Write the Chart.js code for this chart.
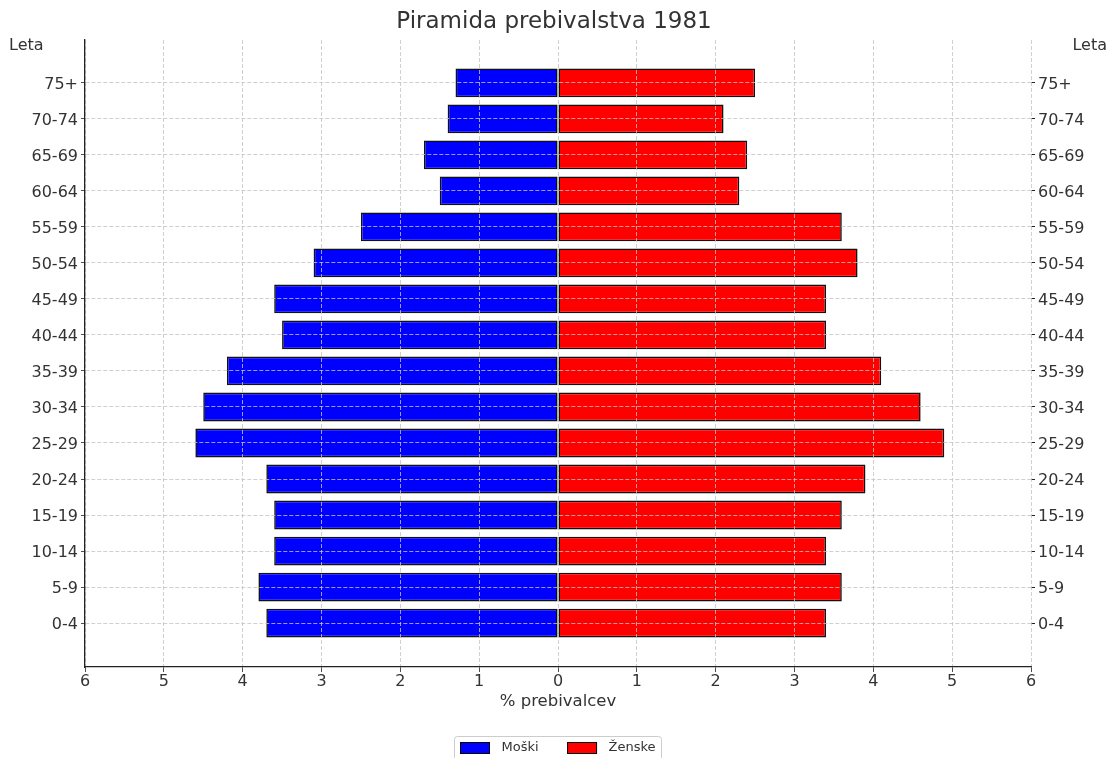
<!DOCTYPE html>
<html>
<head>
<meta charset="utf-8">
<script src="https://cdn.jsdelivr.net/npm/chart.js@4/dist/chart.umd.min.js"></script>
<style>
  html, body { margin: 0; padding: 0; background: #ffffff; }
  #wrap { width: 1108px; height: 758px; }
</style>
</head>
<body>
<div id="wrap"><canvas id="pyramid" width="1108" height="758"></canvas></div>
<script>
// Age groups, bottom to top
const ageGroups = ['0-4', '5-9', '10-14', '15-19', '20-24', '25-29', '30-34', '35-39',
                   '40-44', '45-49', '50-54', '55-59', '60-64', '65-69', '70-74', '75+'];
// Share of population (%) per age group
const male   = [3.7, 3.8, 3.6, 3.6, 3.7, 4.6, 4.5, 4.2, 3.5, 3.6, 3.1, 2.5, 1.5, 1.7, 1.4, 1.3];
const female = [3.4, 3.6, 3.4, 3.6, 3.9, 4.9, 4.6, 4.1, 3.4, 3.4, 3.8, 3.6, 2.3, 2.4, 2.1, 2.5];
// Percentage axis ticks
const xTickValues = [-6, -5, -4, -3, -2, -1, 0, 1, 2, 3, 4, 5, 6];

const seriesNames = ['Moški', 'Ženske'];
const seriesColors = ['#0000ff', '#ff0000'];

const FONT = 'DejaVu Sans';
const TEXT = '#333333';
const GRID = '#c4c4c4';

const yMin = -1.22, yMax = 16.19;

const ageTicks = axis => { axis.ticks = ageGroups.map((_, i) => ({ value: i })); };
const ageLabel = v => ageGroups[v] ?? '';

// "Leta" captions above both age axes, and the framed legend below the chart
const extras = {
  id: 'extras',
  afterDraw(chart) {
    const ctx = chart.ctx;
    const yl = chart.scales.y, yr = chart.scales.y2;
    ctx.save();
    ctx.fillStyle = TEXT;
    ctx.font = `16px "${FONT}"`;
    ctx.textBaseline = 'middle';
    ctx.textAlign = 'left';
    ctx.fillText('Leta', yl.left + 9, 46);
    ctx.textAlign = 'right';
    ctx.fillText('Leta', yr.right - 1, 46);

    // legend
    ctx.font = `13px "${FONT}"`;
    const sw = 29, sh = 11, gapSwatch = 12, gapItem = 29, pad = 6;
    const widths = seriesNames.map(n => ctx.measureText(n).width);
    const total = widths.reduce((s, w, i) => s + sw + gapSwatch + w + (i ? gapItem : 0), 0) + pad * 2;
    const cx = (chart.chartArea.left + chart.chartArea.right) / 2;
    const bx = Math.round(cx - total / 2) + 0.5, by = 736.5, bh = 30;
    ctx.beginPath();
    ctx.roundRect(bx, by, total, bh, 3);
    ctx.fillStyle = 'rgba(255,255,255,0.9)';
    ctx.fill();
    ctx.strokeStyle = '#cccccc';
    ctx.lineWidth = 1;
    ctx.stroke();
    let x = bx + pad;
    const cy = 748;
    seriesNames.forEach((n, i) => {
      ctx.fillStyle = seriesColors[i];
      ctx.fillRect(x, cy - sh / 2, sw, sh);
      ctx.strokeStyle = '#000000';
      ctx.strokeRect(x, cy - sh / 2, sw, sh);
      ctx.fillStyle = TEXT;
      ctx.textAlign = 'left';
      ctx.textBaseline = 'middle';
      ctx.fillText(n, x + sw + gapSwatch, cy);
      x += sw + gapSwatch + widths[i] + gapItem;
    });
    ctx.restore();
  }
};

new Chart(document.getElementById('pyramid'), {
  type: 'bar',
  data: {
    datasets: [
      {
        label: seriesNames[0],
        data: male.map((v, i) => ({ x: -v, y: i })),
        backgroundColor: seriesColors[0],
        borderColor: '#111111',
        borderWidth: 1.6,
        borderSkipped: false,
        yAxisID: 'y'
      },
      {
        label: seriesNames[1],
        data: female.map((v, i) => ({ x: v, y: i })),
        backgroundColor: seriesColors[1],
        borderColor: '#111111',
        borderWidth: 1.6,
        borderSkipped: false,
        yAxisID: 'y'
      }
    ]
  },
  options: {
    indexAxis: 'y',
    responsive: false,
    animation: false,
    barPercentage: 0.8,
    categoryPercentage: 1.0,
    layout: { padding: 0 },
    plugins: {
      legend: { display: false },
      tooltip: { enabled: false },
      title: {
        display: true,
        text: 'Piramida prebivalstva 1981',
        color: TEXT,
        font: { family: FONT, size: 23, weight: 'normal' },
        padding: { top: 8, bottom: 4.4 }
      }
    },
    scales: {
      x: {
        type: 'linear',
        min: -6, max: 6,
        stacked: true,
        afterBuildTicks: axis => { axis.ticks = xTickValues.map(v => ({ value: v })); },
        afterFit: s => { s.height = 91; },
        ticks: {
          callback: v => String(Math.abs(v)),
          color: TEXT,
          font: { family: FONT, size: 16 },
          padding: 0,
          maxRotation: 0
        },
        grid: { color: GRID, lineWidth: 0.8, tickColor: '#222', tickLength: 5, z: 1 },
        border: { display: true, color: '#222', width: 1.3, dash: [4, 2], z: 1 },
        title: {
          display: true,
          text: '% prebivalcev',
          color: TEXT,
          font: { family: FONT, size: 16.5 },
          padding: { top: 0, bottom: 46 }
        }
      },
      y: {
        type: 'linear',
        position: 'left',
        min: yMin, max: yMax,
        offset: false,
        stacked: true,
        afterBuildTicks: ageTicks,
        afterFit: s => { s.width = 85; },
        ticks: { callback: ageLabel, color: TEXT, font: { family: FONT, size: 16 }, padding: 3, labelOffset: 2 },
        grid: { offset: false, color: GRID, lineWidth: 0.8, tickColor: '#222', tickLength: 4, z: 1 },
        border: { display: true, color: '#222', width: 1.3, dash: [4, 2], z: 1 }
      },
      y2: {
        type: 'linear',
        position: 'right',
        min: yMin, max: yMax,
        offset: false,
        afterBuildTicks: ageTicks,
        afterFit: s => { s.width = 77; },
        ticks: { callback: ageLabel, color: TEXT, font: { family: FONT, size: 16 }, padding: 3, labelOffset: 2 },
        grid: { offset: false, drawOnChartArea: false, tickColor: '#222', tickLength: 4 },
        border: { display: false }
      }
    }
  },
  plugins: [extras]
});
</script>
</body>
</html>
